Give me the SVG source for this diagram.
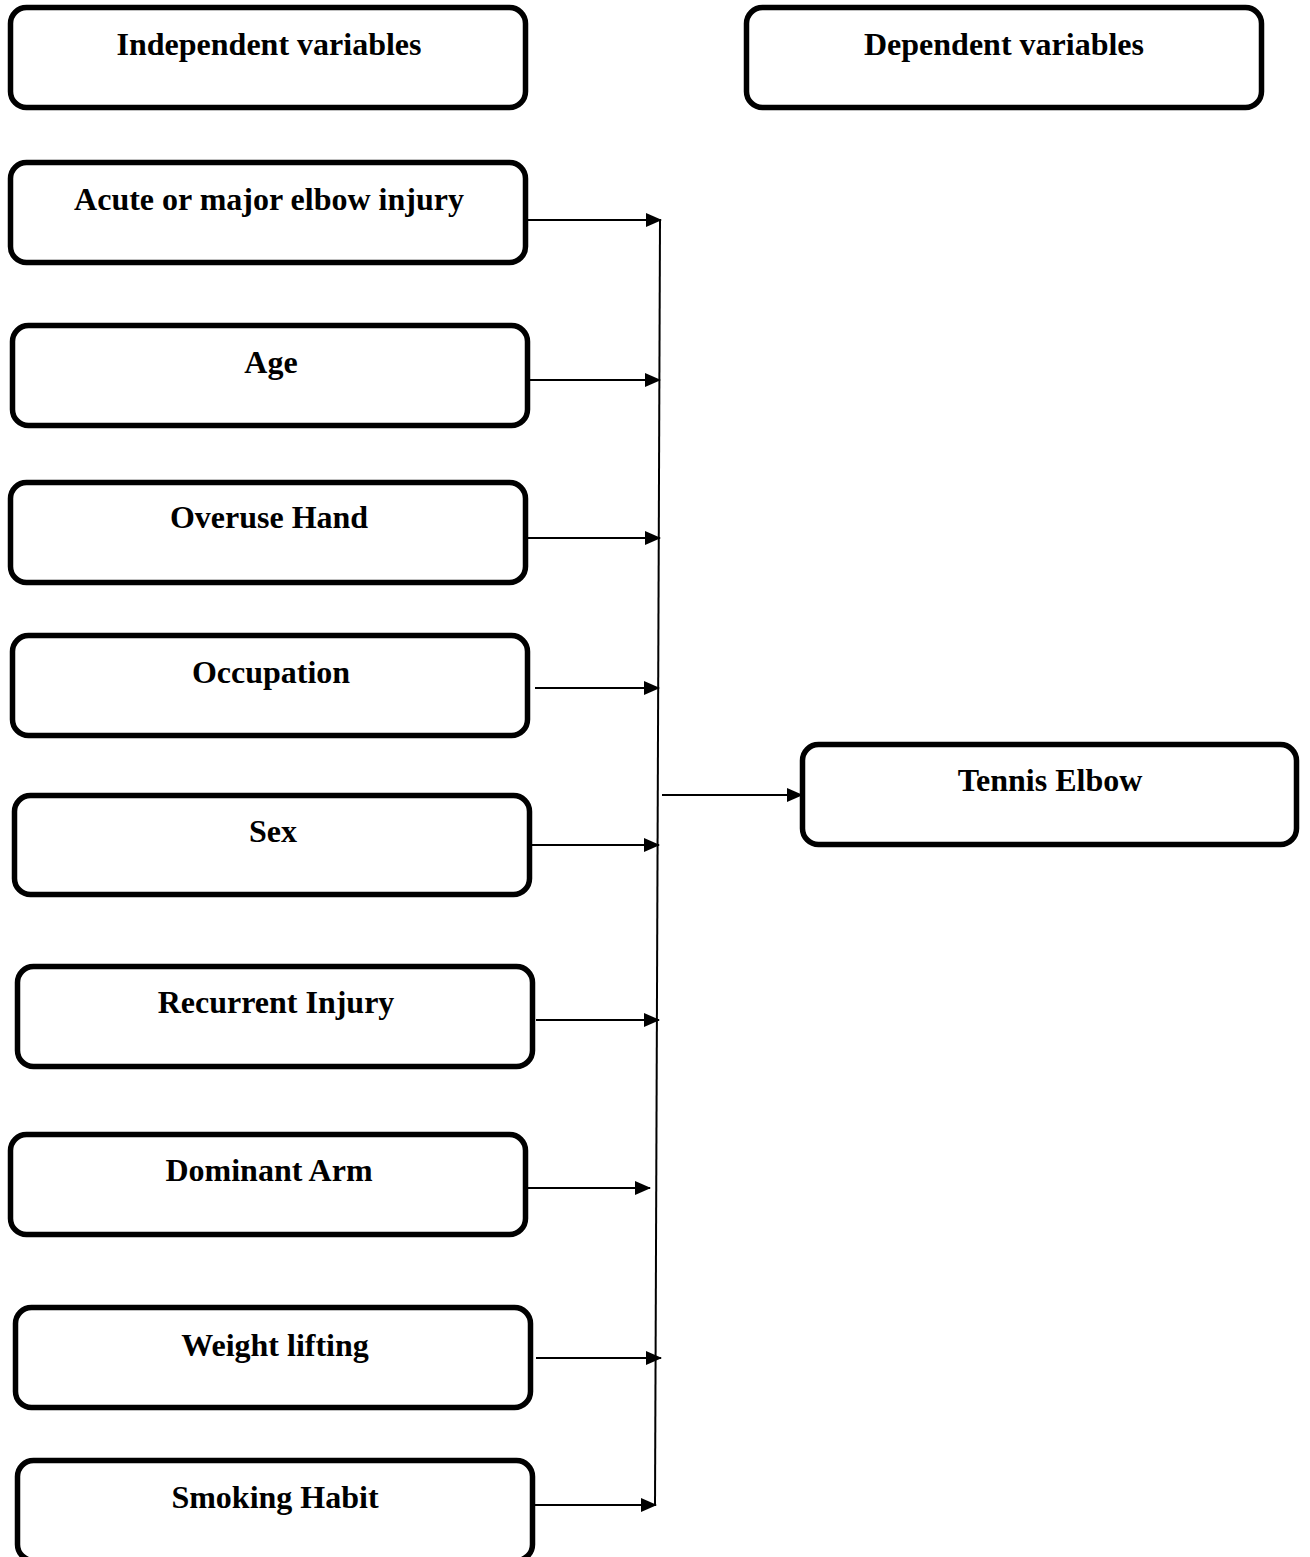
<svg xmlns="http://www.w3.org/2000/svg" width="1310" height="1557" viewBox="0 0 1310 1557">
<style>
.box{fill:#fff;stroke:#000;stroke-width:5.5}
.lbl{font-family:"Liberation Serif","Times New Roman",serif;font-weight:bold;font-size:32px;text-anchor:middle;fill:#000}
.c{stroke:#000;stroke-width:2;fill:none}
</style>
<defs>
<marker id="ah" markerWidth="16" markerHeight="14" refX="15" refY="7" orient="auto" markerUnits="userSpaceOnUse">
<path d="M0,0 L16,7 L0,14 Z" fill="#000"/>
</marker>
</defs>
<rect width="1310" height="1557" fill="#fff"/>
<g id="n-independent"><rect class="box" x="10.5" y="7.5" width="515" height="100" rx="16"/><text class="lbl" x="269" y="55">Independent variables</text></g>
<g id="n-dependent"><rect class="box" x="746.5" y="7.5" width="515" height="100" rx="16"/><text class="lbl" x="1004" y="55">Dependent variables</text></g>
<g id="n-acute"><rect class="box" x="10.5" y="162.5" width="515" height="100" rx="16"/><text class="lbl" x="269" y="210">Acute or major elbow injury</text></g>
<g id="n-age"><rect class="box" x="12.5" y="325.5" width="515" height="100" rx="16"/><text class="lbl" x="271" y="373">Age</text></g>
<g id="n-overuse"><rect class="box" x="10.5" y="482.5" width="515" height="100" rx="16"/><text class="lbl" x="269" y="528">Overuse Hand</text></g>
<g id="n-occupation"><rect class="box" x="12.5" y="635.5" width="515" height="100" rx="16"/><text class="lbl" x="271" y="683">Occupation</text></g>
<g id="n-sex"><rect class="box" x="14.5" y="795.5" width="515" height="99" rx="16"/><text class="lbl" x="273" y="842">Sex</text></g>
<g id="n-recurrent"><rect class="box" x="17.5" y="966.5" width="515" height="100" rx="16"/><text class="lbl" x="276" y="1013">Recurrent Injury</text></g>
<g id="n-dominant"><rect class="box" x="10.5" y="1134.5" width="515" height="100" rx="16"/><text class="lbl" x="269" y="1181">Dominant Arm</text></g>
<g id="n-weight"><rect class="box" x="15.5" y="1307.5" width="515" height="100" rx="16"/><text class="lbl" x="275" y="1356">Weight lifting</text></g>
<g id="n-smoking"><rect class="box" x="17.5" y="1460.5" width="515" height="100" rx="16"/><text class="lbl" x="275" y="1508">Smoking Habit</text></g>
<g id="n-tennis"><rect class="box" x="802.5" y="744.5" width="494" height="100" rx="16"/><text class="lbl" x="1050" y="791">Tennis Elbow</text></g>
<g id="connectors">
<line class="c" x1="660" y1="220" x2="655" y2="1506"/>
<line class="c" x1="528" y1="220" x2="661" y2="220" marker-end="url(#ah)"/>
<line class="c" x1="530" y1="380" x2="660" y2="380" marker-end="url(#ah)"/>
<line class="c" x1="528" y1="538" x2="660" y2="538" marker-end="url(#ah)"/>
<line class="c" x1="535" y1="688" x2="659" y2="688" marker-end="url(#ah)"/>
<line class="c" x1="532" y1="845" x2="659" y2="845" marker-end="url(#ah)"/>
<line class="c" x1="536" y1="1020" x2="659" y2="1020" marker-end="url(#ah)"/>
<line class="c" x1="528" y1="1188" x2="650" y2="1188" marker-end="url(#ah)"/>
<line class="c" x1="536" y1="1358" x2="661" y2="1358" marker-end="url(#ah)"/>
<line class="c" x1="534" y1="1505" x2="656" y2="1505" marker-end="url(#ah)"/>
<line class="c" x1="662" y1="795" x2="802" y2="795" marker-end="url(#ah)"/>
</g>
</svg>
